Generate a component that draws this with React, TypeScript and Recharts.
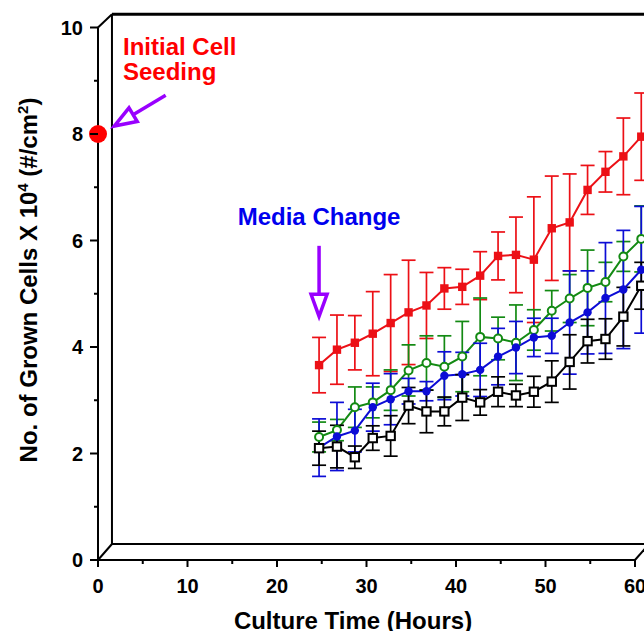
import React from "react";
import {
  ComposedChart,
  Line,
  XAxis,
  YAxis,
  ErrorBar,
  ReferenceLine,
  ReferenceDot,
  Label,
} from "recharts";

// culture time of each measurement (hours)
const hours = [24.7, 26.7, 28.7, 30.7, 32.7, 34.7, 36.7, 38.7, 40.7, 42.7, 44.7, 46.7, 48.7, 50.7, 52.7, 54.7, 56.7, 58.7, 60.7];

// grown cells x 10^4 per cm2, mean and error
const redMean = [3.66, 3.95, 4.08, 4.25, 4.45, 4.65, 4.78, 5.1, 5.13, 5.34, 5.71, 5.73, 5.64, 6.23, 6.34, 6.95, 7.29, 7.58, 7.95];
const redErr = [0.52, 0.65, 0.51, 0.79, 0.91, 0.98, 0.62, 0.39, 0.33, 0.45, 0.45, 0.71, 1.18, 0.98, 0.91, 0.46, 0.38, 0.72, 0.82];

const greenMean = [2.31, 2.44, 2.87, 2.96, 3.19, 3.56, 3.7, 3.63, 3.82, 4.19, 4.16, 4.08, 4.32, 4.68, 4.91, 5.11, 5.22, 5.7, 6.03];
const greenErr = [0.28, 0.2, 0.38, 0.29, 0.38, 0.48, 0.51, 0.58, 0.66, 0.73, 0.4, 0.71, 0.38, 0.38, 0.45, 0.71, 0.37, 0.28, 0.62];

const blueMean = [2.11, 2.32, 2.43, 2.87, 3.02, 3.17, 3.17, 3.46, 3.49, 3.57, 3.82, 3.99, 4.18, 4.21, 4.46, 4.65, 4.92, 5.08, 5.45];
const blueErr = [0.54, 0.64, 0.4, 0.45, 0.48, 0.24, 0.18, 0.45, 0.41, 0.5, 0.53, 0.49, 0.36, 0.33, 0.97, 0.78, 1.04, 1.11, 1.19];

const blackMean = [2.1, 2.13, 1.93, 2.29, 2.33, 2.9, 2.79, 2.79, 3.05, 2.96, 3.16, 3.09, 3.16, 3.35, 3.72, 4.11, 4.15, 4.57, 5.15];
const blackErr = [0.32, 0.4, 0.21, 0.23, 0.38, 0.34, 0.4, 0.27, 0.43, 0.24, 0.28, 0.21, 0.29, 0.39, 0.51, 0.41, 0.38, 0.55, 0.44];

const xTicks = [0, 5, 10, 15, 20, 25, 30, 35, 40, 45, 50, 55, 60];
const yTicks = [0, 1, 2, 3, 4, 5, 6, 7, 8, 9, 10];

const seedTime = 0;
const seedCells = 8;
const mediaChangeTime = 24.7;

const RED = "#ec1016";
const GREEN = "#138a13";
const BLUE = "#0c0cd6";
const PURPLE = "#9900ff";
const FONT = "'Liberation Sans', Arial, Helvetica, sans-serif";

const rows = hours.map((h, i) => ({
  h,
  red: redMean[i],
  redErr: redErr[i],
  green: greenMean[i],
  greenErr: greenErr[i],
  blue: blueMean[i],
  blueErr: blueErr[i],
  black: blackMean[i],
  blackErr: blackErr[i],
}));

const squareDot = (color: string, filled: boolean) => (p: any) => {
  if (p.cx == null || p.cy == null) return <g key={p.index} />;
  return (
    <rect
      key={p.index}
      x={p.cx - 4.2}
      y={p.cy - 4.2}
      width={8.4}
      height={8.4}
      fill={filled ? color : "#fff"}
      stroke={color}
      strokeWidth={filled ? 0 : 2}
    />
  );
};

const circleDot = (color: string, filled: boolean) => (p: any) => {
  if (p.cx == null || p.cy == null) return <g key={p.index} />;
  return (
    <circle
      key={p.index}
      cx={p.cx}
      cy={p.cy}
      r={filled ? 4.2 : 4}
      fill={filled ? color : "#fff"}
      stroke={color}
      strokeWidth={filled ? 0 : 2}
    />
  );
};

const YTick = (props: any) => {
  const { x, y, payload } = props;
  const major = payload.value % 2 === 0;
  return (
    <g>
      <line x1={x - (major ? 8 : 4)} x2={x} y1={y} y2={y} stroke="#000" strokeWidth={2} />
      {major && (
        <text x={x - 15} y={y + 7} textAnchor="end" fontSize={20} fontWeight="bold" fontFamily={FONT} fill="#000">
          {payload.value}
        </text>
      )}
    </g>
  );
};

const XTick = (props: any) => {
  const { x, y, payload } = props;
  const major = payload.value % 10 === 0;
  return (
    <g>
      <line x1={x} x2={x} y1={y} y2={y + (major ? 7 : 4)} stroke="#000" strokeWidth={2} />
      {major && (
        <text x={x} y={y + 33} textAnchor="middle" fontSize={20} fontWeight="bold" fontFamily={FONT} fill="#000">
          {payload.value}
        </text>
      )}
    </g>
  );
};

const Arrow = (p: any) => {
  const { x1, y1, x2, y2 } = p;
  const dx = x2 - x1;
  const dy = y2 - y1;
  const len = Math.hypot(dx, dy) || 1;
  const ux = dx / len;
  const uy = dy / len;
  const tx = x2 - ux * 3;
  const ty = y2 - uy * 3;
  const hl = 22;
  const hw = 8;
  const bx = tx - ux * hl;
  const by = ty - uy * hl;
  return (
    <g>
      <line x1={x1} y1={y1} x2={bx} y2={by} stroke={PURPLE} strokeWidth={3.5} />
      <polygon
        points={`${tx},${ty} ${bx - uy * hw},${by + ux * hw} ${bx + uy * hw},${by - ux * hw}`}
        fill="#fff"
        stroke={PURPLE}
        strokeWidth={3.5}
      />
    </g>
  );
};

const noteText = (lines: string[], color: string, anchor: "start" | "middle") => (p: any) => (
  <text x={p.cx} y={p.cy} fill={color} fontSize={24} fontWeight="bold" fontFamily={FONT} textAnchor={anchor}>
    {lines.map((l, i) => (
      <tspan key={i} x={p.cx} dy={i === 0 ? 0 : 25}>
        {l}
      </tspan>
    ))}
  </text>
);

// 3D frame offset in data units
const DX = 1.56;
const DY0 = 0.3;
const DY1 = 10.25;

const frame: { a: [number, number]; b: [number, number]; w: number }[] = [
  { a: [DX, DY0], b: [DX, DY1], w: 2 },
  { a: [DX, DY1], b: [60 + DX, DY1], w: 3 },
  { a: [DX, DY0], b: [60 + DX, DY0], w: 2 },
  { a: [60 + DX, DY0], b: [60 + DX, DY1], w: 2 },
  { a: [0, 10], b: [DX, DY1], w: 2 },
  { a: [0, 0], b: [DX, DY0], w: 2 },
  { a: [60, 0], b: [60 + DX, DY0], w: 2 },
  { a: [0, 0], b: [0, 10], w: 2 },
  { a: [0, 0], b: [60, 0], w: 2 },
];

export default function App() {
  return (
    <div
      style={{
        position: "absolute",
        left: 0,
        top: 0,
        width: 644,
        height: 631,
        overflow: "hidden",
        background: "#fff",
      }}
    >
      <ComposedChart
        width={700}
        height={640}
        data={rows}
        margin={{ top: 27.5, right: 11.3, bottom: 0, left: 38 }}
      >
        <XAxis
          dataKey="h"
          type="number"
          domain={[0, 66]}
          ticks={xTicks}
          interval={0}
          axisLine={false}
          tickLine={false}
          tickSize={0}
          tickMargin={0}
          tick={<XTick />}
          height={80}
        >
          <Label
            content={() => (
              <text x={353} y={629} textAnchor="middle" fontSize={24} fontWeight="bold" fontFamily={FONT} fill="#000">
                Culture Time (Hours)
              </text>
            )}
          />
        </XAxis>
        <YAxis
          type="number"
          domain={[0, 10]}
          ticks={yTicks}
          interval={0}
          axisLine={false}
          tickLine={false}
          tickSize={0}
          tickMargin={0}
          tick={<YTick />}
          width={60}
        >
          <Label
            content={() => (
              <text
                transform="translate(37,280) rotate(-90)"
                textAnchor="middle"
                fontSize={24}
                fontWeight="bold"
                fontFamily={FONT}
                fill="#000"
              >
                No. of Grown Cells X 10
                <tspan fontSize={15} dy={-9}>4</tspan>
                <tspan dy={9}> (#/cm</tspan>
                <tspan fontSize={15} dy={-9}>2</tspan>
                <tspan dy={9}>)</tspan>
              </text>
            )}
          />
        </YAxis>

        {frame.map((f, i) => (
          <ReferenceLine
            key={i}
            segment={[
              { x: f.a[0], y: f.a[1] },
              { x: f.b[0], y: f.b[1] },
            ]}
            stroke="#000"
            strokeWidth={f.w}
            ifOverflow="visible"
          />
        ))}

        <Line dataKey="red" stroke={RED} strokeWidth={2} dot={squareDot(RED, true)} activeDot={false} isAnimationActive={false}>
          <ErrorBar dataKey="redErr" width={7} strokeWidth={1.7} stroke={RED} direction="y" isAnimationActive={false} />
        </Line>
        <Line dataKey="green" stroke={GREEN} strokeWidth={2} dot={circleDot(GREEN, false)} activeDot={false} isAnimationActive={false}>
          <ErrorBar dataKey="greenErr" width={7} strokeWidth={1.7} stroke={GREEN} direction="y" isAnimationActive={false} />
        </Line>
        <Line dataKey="blue" stroke={BLUE} strokeWidth={2} dot={circleDot(BLUE, true)} activeDot={false} isAnimationActive={false}>
          <ErrorBar dataKey="blueErr" width={7} strokeWidth={1.7} stroke={BLUE} direction="y" isAnimationActive={false} />
        </Line>
        <Line dataKey="black" stroke="#000" strokeWidth={2} dot={squareDot("#000", false)} activeDot={false} isAnimationActive={false}>
          <ErrorBar dataKey="blackErr" width={7} strokeWidth={1.7} stroke="#000" direction="y" isAnimationActive={false} />
        </Line>

        <ReferenceDot x={seedTime} y={seedCells} r={9} fill="#ff0000" stroke="none" ifOverflow="visible" />
        <ReferenceLine
          segment={[
            { x: 7.56, y: 8.73 },
            { x: 1.53, y: 8.12 },
          ]}
          ifOverflow="visible"
          shape={Arrow}
        />
        <ReferenceLine
          segment={[
            { x: mediaChangeTime, y: 5.9 },
            { x: mediaChangeTime, y: 4.52 },
          ]}
          ifOverflow="visible"
          shape={Arrow}
        />
        <ReferenceDot
          x={2.79}
          y={9.48}
          r={0}
          ifOverflow="visible"
          shape={noteText(["Initial Cell", "Seeding"], "#ff0000", "start")}
        />
        <ReferenceDot
          x={mediaChangeTime}
          y={6.29}
          r={0}
          ifOverflow="visible"
          shape={noteText(["Media Change"], "#0000ee", "middle")}
        />
      </ComposedChart>
    </div>
  );
}
